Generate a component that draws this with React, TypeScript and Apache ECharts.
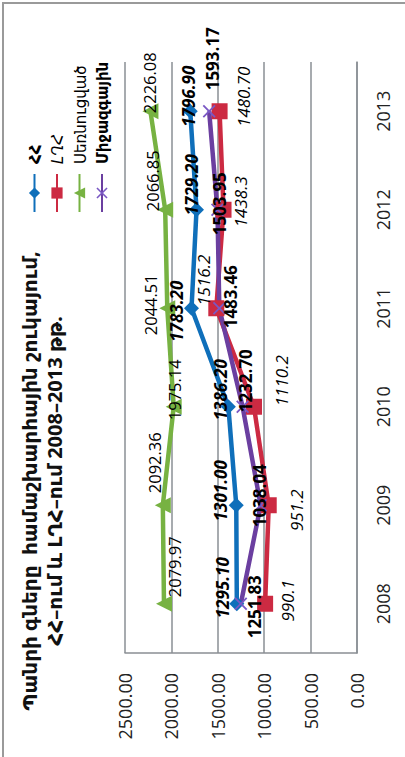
import React, { useEffect, useRef } from "react";
import * as echarts from "echarts";

const years = ["2008", "2009", "2010", "2011", "2012", "2013"];
const seriesNames = ["ՀՀ", "ԼՂՀ", "Սեռնուցված", "Միջազգային"];
const hhValues = [1295.1, 1301.0, 1386.2, 1783.2, 1729.2, 1796.9];
const lghValues = [990.1, 951.2, 1110.2, 1516.2, 1438.3, 1480.7];
const greenValues = [2079.97, 2092.36, 1975.14, 2044.51, 2066.85, 2226.08];
const intlValues = [1251.83, 1038.04, 1232.7, 1483.46, 1503.95, 1593.17];
const hhLabels = ["1295.10", "1301.00", "1386.20", "1783.20", "1729.20", "1796.90"];
const lghLabels = ["990.1", "951.2", "1110.2", "1516.2", "1438.3", "1480.70"];
const greenLabels = ["2079.97", "2092.36", "1975.14", "2044.51", "2066.85", "2226.08"];
const intlLabels = ["1251.83", "1038.04", "1232.70", "1483.46", "1503.95", "1593.17"];
const titleLines = ["Պանրի գները  համաշխարհային շուկայում,", "ՀՀ–ում և ԼՂՀ–ում 2008–2013 թթ."];

// label placement (style config, separate from data)
const hhOffsets = [[16, -14], [14.5, -16], [17, -8], [-3, -15], [25, -5], [15, -2]];
const lghOffsets = [[3, 22], [-5, 28], [26, 28], [28, -13], [8, 16.5], [14.5, 24]];
const greenOffsets = [[37, 11], [42.5, -8], [17, 1], [3.5, -17], [29, -13], [28.5, -1]];
const intlOffsets = [[-3, 14], [9.5, -1.5], [26, 2.5], [11.5, 11], [6, 2.5], [52.5, 3]];

const W = 757;
const H = 405;
const NUM_FONT = "'Open Sans', 'Noto Sans', sans-serif";
const ARM_FONT = "'Noto Sans', 'DejaVu Sans', sans-serif";

const xPath = "path://M1,0 L5,4 L9,0 L10,1 L6,5 L10,9 L9,10 L5,6 L1,10 L0,9 L4,5 L0,1 Z";

function buildData(values: number[], labels: string[], offsets: number[][]) {
  return values.map((v, i) => ({
    value: v,
    label: { offset: offsets[i], formatter: labels[i] },
  }));
}

export default function App() {
  const ref = useRef<HTMLDivElement>(null);
  useEffect(() => {
    if (!ref.current) return;
    const chart = echarts.init(ref.current, null, { renderer: "svg", width: W, height: H });
    const mkSeries = (
      name: string,
      values: number[],
      labels: string[],
      offsets: number[][],
      color: string,
      symbol: string,
      symbolSize: number,
      fontWeight: string,
      fontStyle: string,
      fontSize: number,
      symbolColor?: string
    ) => ({
      name,
      type: "line",
      data: buildData(values, labels, offsets),
      symbol,
      symbolSize,
      showAllSymbol: true,
      lineStyle: { color, width: 4.5 },
      itemStyle: { color: symbolColor || color },
      label: {
        show: true,
        position: "inside",
        color: "#000",
        fontFamily: NUM_FONT,
        fontSize,
        fontWeight,
        fontStyle,
      },
      emphasis: { disabled: true },
    });
    chart.setOption({
      animation: false,
      backgroundColor: "#fff",
      grid: { left: 104, right: 62, top: 125, bottom: 48 },
      graphic: [
        {
          type: "rect",
          shape: { x: -10, y: 3, width: 764, height: 420 },
          style: { fill: "none", stroke: "#9a9a9a", lineWidth: 2 },
          silent: true,
        },
        {
          type: "text",
          x: 276,
          y: 17,
          style: {
            text: titleLines.join("\n"),
            fill: "#111",
            font: "bold 20px " + ARM_FONT,
            textAlign: "center",
            lineHeight: 25,
          },
        },
      ],
      legend: {
        orient: "vertical",
        left: 539,
        top: 22,
        itemWidth: 38,
        itemHeight: 14,
        itemGap: 7.5,
        textStyle: { fontFamily: ARM_FONT, fontSize: 15, color: "#000", padding: [0, 0, 0, 5] },
        data: [
          { name: seriesNames[0], textStyle: { fontWeight: "bold" } },
          { name: seriesNames[1], textStyle: { fontStyle: "italic" } },
          { name: seriesNames[2] },
          { name: seriesNames[3], textStyle: { fontWeight: "bold" } },
        ],
      },
      xAxis: {
        type: "category",
        data: years,
        boundaryGap: true,
        axisLine: { show: true, lineStyle: { color: "#8a8f94", width: 1.5 } },
        axisTick: { show: false },
        axisLabel: { color: "#222", fontFamily: NUM_FONT, fontSize: 18, margin: 17 },
      },
      yAxis: {
        type: "value",
        min: 0,
        max: 2500,
        interval: 500,
        axisLine: { show: true, lineStyle: { color: "#8a8f94", width: 1.5 } },
        axisTick: { show: false },
        splitLine: { show: true, lineStyle: { color: "#8a8f94", width: 1.5 } },
        axisLabel: {
          color: "#222",
          fontFamily: NUM_FONT,
          fontSize: 18,
          margin: 20,
          formatter: (v: number) => v.toFixed(2),
        },
      },
      series: [
        mkSeries(seriesNames[0], hhValues, hhLabels, hhOffsets, "#0f6fba", "diamond", 15, "bold", "italic", 17),
        mkSeries(seriesNames[1], lghValues, lghLabels, lghOffsets, "#cc2a42", "rect", 16, "normal", "italic", 17),
        mkSeries(seriesNames[2], greenValues, greenLabels, greenOffsets, "#77b242", "triangle", 16, "normal", "normal", 16.5),
        mkSeries(seriesNames[3], intlValues, intlLabels, intlOffsets, "#6b3fa0", xPath, 13, "bold", "normal", 17, "#7a58c4"),
      ],
    });
    return () => chart.dispose();
  }, []);
  return (
    <div
      style={{
        position: "fixed",
        left: 0,
        top: 0,
        width: 405,
        height: 757,
        overflow: "hidden",
        background: "#fff",
      }}
    >
      <div
        ref={ref}
        style={{
          position: "absolute",
          left: 0,
          top: 0,
          width: W,
          height: H,
          transformOrigin: "0 0",
          transform: "translateY(757px) rotate(-90deg)",
        }}
      />
    </div>
  );
}
